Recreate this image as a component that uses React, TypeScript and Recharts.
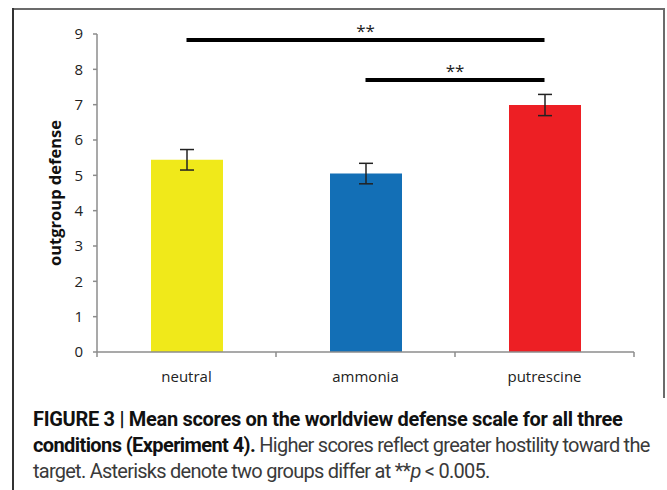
import { BarChart, Bar, XAxis, YAxis, Cell, ErrorBar, ReferenceLine } from 'recharts';

const categories = ['neutral', 'ammonia', 'putrescine'];
const means = [5.44, 5.05, 6.99];
const errors = [0.29, 0.29, 0.3];
const barColors = ['#F0E91A', '#136FB6', '#ED1F24'];
const yTicks = [0, 1, 2, 3, 4, 5, 6, 7, 8, 9];

const sigFrom = ['neutral', 'ammonia'];
const sigTo = ['putrescine', 'putrescine'];
const sigLevel = [8.83, 7.7];
const sigLabel = ['**', '**'];

const data = categories.map((c, i) => ({ name: c, mean: means[i], err: errors[i] }));

const CHART_W = 667;
const CHART_H = 392;
const PLOT_LEFT = 97;
const PLOT_RIGHT = 634;
const BAND = (PLOT_RIGHT - PLOT_LEFT) / categories.length;
const AXIS_COLOR = '#8c8c8c';
const FONT = '"Open Sans", sans-serif';

const CategoryTick = (props: any) => {
    const { x, y, payload, index } = props;
    const left = x - BAND / 2;
    const right = x + BAND / 2;
    return (
        <g>
            <line x1={left} y1={y} x2={left} y2={y + 5} stroke={AXIS_COLOR} strokeWidth={1.5} />
            {index === categories.length - 1 && (
                <line x1={right} y1={y} x2={right} y2={y + 5} stroke={AXIS_COLOR} strokeWidth={1.5} />
            )}
            <text x={x} y={y + 24} textAnchor="middle" dominantBaseline="central" fill="#222" fontSize={15} fontFamily={FONT}>
                {payload.value}
            </text>
        </g>
    );
};

export default function App() {
    return (
        <div style={{ position: 'absolute', left: 0, top: 0, width: 667, height: 490, background: '#fff' }}>
            {/* figure frame */}
            <div style={{ position: 'absolute', left: 12, top: 8, width: 651, height: 388, borderTop: '2px solid #6b6b6b', borderRight: '2px solid #6b6b6b' }} />
            <div style={{ position: 'absolute', left: 12, top: 8, width: 2, height: 482, background: '#333' }} />

            <div style={{ position: 'absolute', left: 0, top: 0 }}>
                <BarChart
                    width={CHART_W}
                    height={CHART_H}
                    data={data}
                    margin={{ top: 34, right: CHART_W - PLOT_RIGHT, left: 0, bottom: 10 }}
                    barSize={72}
                >
                    <XAxis
                        dataKey="name"
                        height={30}
                        tickLine={false}
                        tickSize={0}
                        tickMargin={0}
                        axisLine={{ stroke: AXIS_COLOR, strokeWidth: 1.5 }}
                        tick={<CategoryTick />}
                        interval={0}
                    />
                    <YAxis
                        width={PLOT_LEFT}
                        domain={[0, 9]}
                        ticks={yTicks}
                        interval={0}
                        tickSize={4}
                        tickMargin={10}
                        tickLine={{ stroke: AXIS_COLOR, strokeWidth: 1.5 }}
                        axisLine={{ stroke: AXIS_COLOR, strokeWidth: 1.5 }}
                        tick={{ fill: '#222', fontSize: 15, fontFamily: FONT }}
                        label={{
                            value: 'outgroup defense',
                            angle: -90,
                            position: 'center',
                            dx: 7,
                            style: { textAnchor: 'middle', fill: '#111', fontSize: 16.5, fontWeight: 700, fontFamily: FONT },
                        }}
                    />
                    <Bar dataKey="mean" isAnimationActive={false}>
                        {data.map((_, i) => (
                            <Cell key={i} fill={barColors[i]} />
                        ))}
                        <ErrorBar dataKey="err" width={7} stroke="#222" strokeWidth={1.5} isAnimationActive={false} />
                    </Bar>
                    {sigLevel.map((lvl, i) => (
                        <ReferenceLine
                            key={i}
                            segment={[{ x: sigFrom[i], y: lvl }, { x: sigTo[i], y: lvl }]}
                            stroke="#000"
                            strokeWidth={4}
                            label={{ value: sigLabel[i], position: 'top', offset: 3, fill: '#222', fontSize: 17, fontFamily: FONT }}
                        />
                    ))}
                </BarChart>
            </div>

            <div
                style={{
                    position: 'absolute',
                    left: 33,
                    top: 406,
                    fontFamily: 'Roboto, sans-serif',
                    fontSize: 20,
                    lineHeight: '26px',
                    color: '#3a3a3a',
                    whiteSpace: 'nowrap',
                    letterSpacing: '-0.75px',
                }}
            >
                <b style={{ color: '#111', letterSpacing: '-0.3px' }}>FIGURE 3 | Mean scores on the worldview defense scale for all three</b>
                <br />
                <b style={{ color: '#111', letterSpacing: '-0.6px' }}>conditions (Experiment 4).</b> Higher scores reflect greater hostility toward the
                <br />
                target. Asterisks denote two groups differ at **<i>p</i> &lt; 0.005.
            </div>
        </div>
    );
}
